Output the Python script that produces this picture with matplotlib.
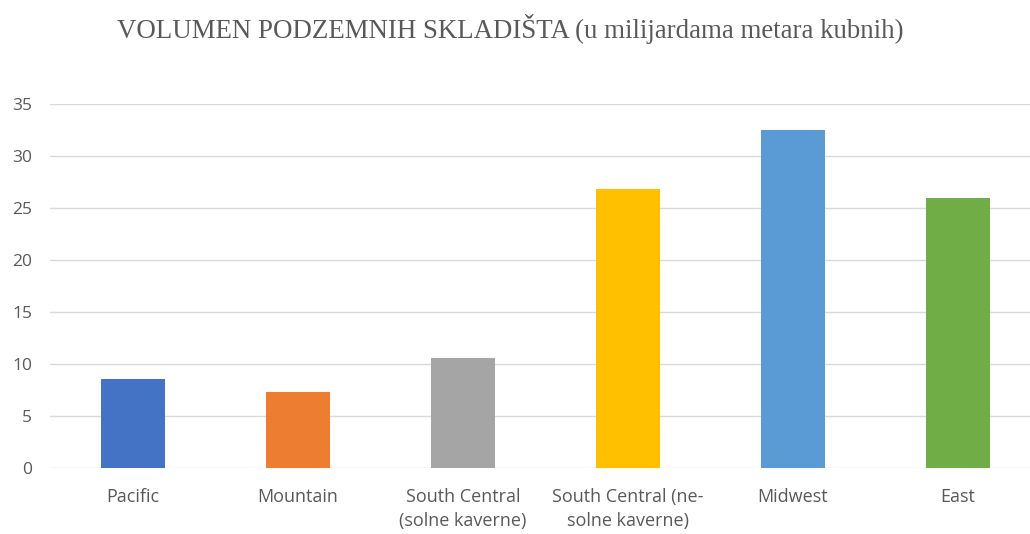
import matplotlib
matplotlib.use("Agg")
import matplotlib.pyplot as plt

categories = ["Pacific", "Mountain", "South Central\n(solne kaverne)",
              "South Central (ne-\nsolne kaverne)", "Midwest", "East"]
values = [8.6, 7.3, 10.6, 26.8, 32.5, 26.0]
colors = ["#4472C4", "#ED7D31", "#A5A5A5", "#FFC000", "#5B9BD5", "#70AD47"]
yticks = [0, 5, 10, 15, 20, 25, 30, 35]

TEXT = "#595959"
GRID = "#d9d9d9"

fig = plt.figure(figsize=(10.30, 5.34), dpi=100)
ax = fig.add_axes([50 / 1030, 1 - 468 / 534, 980 / 1030, 364 / 534])

x = list(range(len(categories)))
ax.bar(x, values, width=0.39, color=colors, zorder=3)

ax.set_xlim(-0.503, 5.436)
ax.set_ylim(0, 35)
ax.set_yticks(yticks)
ax.set_xticks(x)
ax.set_xticklabels(categories, family="Open Sans", fontsize=13, color=TEXT,
                   linespacing=1.45)
ax.set_yticklabels([str(t) for t in yticks], family="Open Sans", fontsize=12.5, color=TEXT)
ax.tick_params(axis="both", length=0)
ax.tick_params(axis="x", pad=14.5)
ax.tick_params(axis="y", pad=13)
ax.grid(axis="y", color=GRID, linewidth=1, zorder=0)
for s in ax.spines.values():
    s.set_visible(False)

fig.text(510 / 1030, 1 - 29 / 534, "VOLUMEN PODZEMNIH SKLADIŠTA (u milijardama metara kubnih)",
         family="Liberation Serif", fontsize=19.4, color=TEXT, ha="center", va="center")

fig.savefig("out.png", dpi=100)
